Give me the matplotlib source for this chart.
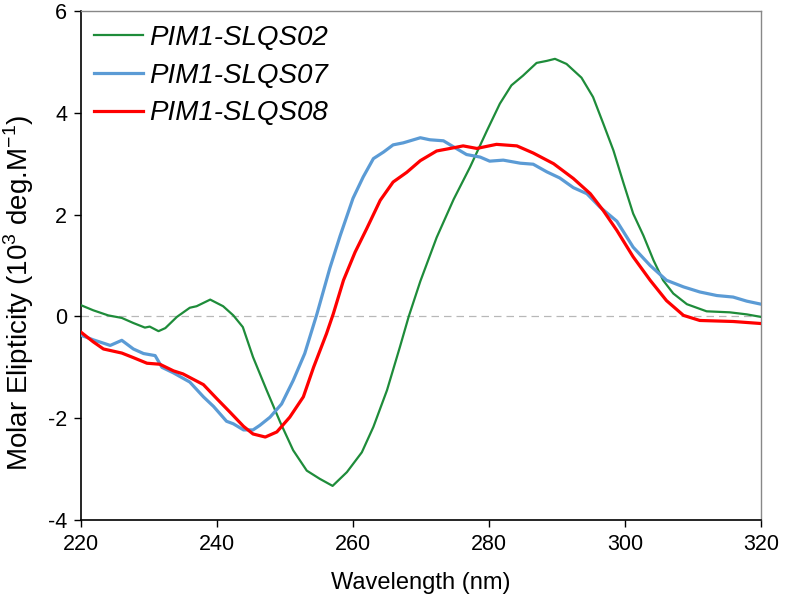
import matplotlib
matplotlib.use('Agg')
import matplotlib.pyplot as plt

plt.rcParams['font.family'] = ['Liberation Sans', 'DejaVu Sans']
plt.rcParams['mathtext.fontset'] = 'custom'
plt.rcParams['mathtext.rm'] = 'Liberation Sans'
plt.rcParams['axes.unicode_minus'] = False

# PIM1-SLQS02 (green)
wl_02 = [220, 221.8, 224, 226, 227.7, 229.4, 230.1, 231.4, 232.4, 234.1, 236, 237, 239, 240.9,
         242.4, 243.8, 245.3, 247.3, 249.3, 251.2, 253.2, 255.1, 257, 259.1, 261.3, 263, 265,
         266.9, 268.2, 269.9, 272.3, 274.8, 277.2, 279.7, 281.6, 283.3, 285, 287, 288.5, 289.7,
         291.4, 293.6, 295.3, 296.8, 298.3, 299.8, 301.2, 302.7, 304.2, 305.6, 307.1, 309.1,
         312, 315.4, 317.9, 320]
cd_02 = [0.22, 0.12, 0.02, -0.03, -0.13, -0.22, -0.20, -0.29, -0.23, -0.01, 0.17, 0.20, 0.33, 0.20,
         0.02, -0.21, -0.80, -1.45, -2.08, -2.63, -3.03, -3.19, -3.33, -3.06, -2.67, -2.17, -1.45,
         -0.60, 0.0, 0.69, 1.55, 2.30, 2.93, 3.65, 4.18, 4.54, 4.73, 4.98, 5.02, 5.06,
         4.96, 4.69, 4.31, 3.79, 3.26, 2.61, 2.02, 1.59, 1.10, 0.71, 0.45, 0.24,
         0.10, 0.08, 0.04, -0.01]

# PIM1-SLQS07 (blue)
wl_07 = [220, 221.8, 224.3, 226, 227.7, 229.2, 230.9, 231.9, 233.6, 236, 238, 239.5, 241.4, 242.4,
         243.9, 245.3, 246.3, 247.8, 249.5, 251.2, 252.9, 254.7, 256.6, 258.1, 260, 261.5, 263,
         264.5, 265.9, 267.4, 269.9, 271.3, 273.3, 275.3, 276.7, 278.7, 280.1, 282.1, 284.6,
         286.5, 288.5, 290.4, 292.4, 294.4, 296.3, 298.8, 301.2, 303.7, 306.1, 308.6, 311,
         313.5, 315.9, 317.9, 320]
cd_07 = [-0.37, -0.46, -0.57, -0.47, -0.64, -0.73, -0.77, -1.0, -1.11, -1.29, -1.58, -1.77, -2.06, -2.11,
         -2.23, -2.23, -2.14, -1.98, -1.72, -1.26, -0.73, 0.05, 0.95, 1.58, 2.32, 2.74, 3.10,
         3.23, 3.37, 3.41, 3.51, 3.47, 3.45, 3.29, 3.18, 3.13, 3.05, 3.07, 3.01,
         2.99, 2.84, 2.72, 2.53, 2.41, 2.15, 1.87, 1.36, 1.00, 0.71, 0.58, 0.48,
         0.41, 0.38, 0.30, 0.24]

# PIM1-SLQS08 (red)
wl_08 = [220, 221.8, 223.3, 226, 227.7, 229.7, 231.6, 233.6, 235, 238, 240, 241.9, 243.9, 245.3,
         247.1, 248.8, 250.7, 252.7, 254.2, 256.1, 257.1, 258.6, 260.3, 262, 264, 265.9, 267.9,
         269.9, 272.3, 274.3, 276.2, 278.2, 281.1, 284.1, 286.5, 289.5, 292.4, 294.9, 296.8,
         298.8, 301.2, 303.7, 306.1, 308.6, 311, 315.9, 320]
cd_08 = [-0.31, -0.50, -0.64, -0.72, -0.81, -0.92, -0.94, -1.07, -1.13, -1.34, -1.62, -1.88, -2.16, -2.31,
         -2.37, -2.27, -1.98, -1.58, -1.0, -0.34, 0.05, 0.71, 1.26, 1.72, 2.28, 2.64, 2.83,
         3.06, 3.25, 3.30, 3.35, 3.30, 3.38, 3.35, 3.21, 3.0, 2.71, 2.41, 2.08,
         1.69, 1.17, 0.71, 0.31, 0.02, -0.08, -0.10, -0.14]

x_ticks = [220, 240, 260, 280, 300, 320]
y_ticks = [-4, -2, 0, 2, 4, 6]

fig = plt.figure(figsize=(7.85, 6.12), dpi=100)
ax = fig.add_axes([81 / 785, 92 / 612, 680 / 785, 509 / 612])

ax.axhline(0, color='#b8b8b8', lw=0.9, ls=(0, (6, 4)), zorder=1)
ax.plot(wl_02, cd_02, color='#1e8c3a', lw=1.6, label='PIM1-SLQS02', zorder=3)
ax.plot(wl_07, cd_07, color='#5b9bd5', lw=2.3, label='PIM1-SLQS07', zorder=3)
ax.plot(wl_08, cd_08, color='#ff0000', lw=2.3, label='PIM1-SLQS08', zorder=4)

ax.set_xlim(220, 320)
ax.set_ylim(-4, 6)
ax.set_xticks(x_ticks)
ax.set_yticks(y_ticks)
ax.tick_params(direction='out', length=5, width=1, labelsize=15.5, pad=5)

for s in ['left', 'bottom']:
    ax.spines[s].set_linewidth(1.2)
    ax.spines[s].set_color('black')
for s in ['top', 'right']:
    ax.spines[s].set_linewidth(1)
    ax.spines[s].set_color('#888888')

ax.set_xlabel('Wavelength (nm)', fontsize=17, labelpad=12)
ax.set_ylabel('Molar Elipticity (10$^{3}$ deg.M$^{-1}$)', fontsize=20)
ax.yaxis.set_label_coords(-0.066, 0.447)

leg = ax.legend(loc='upper left', bbox_to_anchor=(13 / 680, 1 - 14 / 509), frameon=False,
                borderpad=0, borderaxespad=0, handlelength=1.75, handletextpad=0.22,
                labelspacing=0.42, prop={'style': 'italic', 'size': 20})

fig.savefig('out.png', dpi=100)
